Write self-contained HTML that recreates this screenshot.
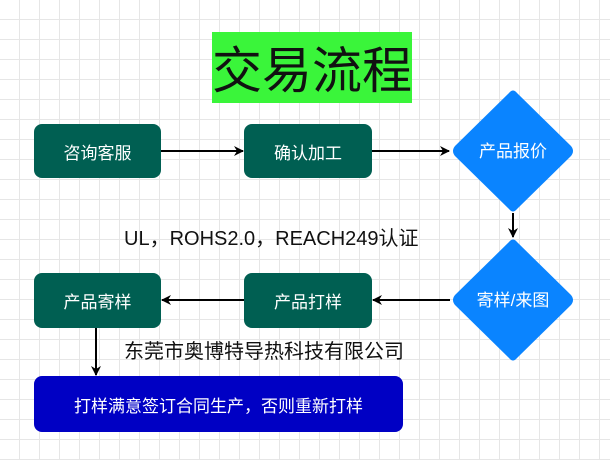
<!DOCTYPE html>
<html><head><meta charset="utf-8"><style>
body{margin:0;width:610px;height:460px;overflow:hidden;background:#fff;
background-image:linear-gradient(#e6e6e6 1px,transparent 1px),linear-gradient(90deg,#e6e6e6 1px,transparent 1px);background-size:20px 20px;background-position:-1px -1px;
font-family:"Liberation Sans","Noto Sans CJK SC",sans-serif;position:relative}
.b{position:absolute;background:#005f52;color:#fff;border-radius:8px;display:flex;align-items:center;justify-content:center;font-size:17px}
.t{position:absolute;font-size:20px;color:#111;white-space:nowrap}
</style></head><body>
<div style="position:absolute;left:212px;top:32px;width:200px;height:71px;background:#3af53a;font-size:50px;line-height:71px;text-align:center;color:#111;white-space:nowrap;overflow:hidden;font-family:'Noto Sans CJK SC',sans-serif">交易流程</div>
<div class="b" style="left:34px;top:124px;width:127px;height:54px">咨询客服</div>
<div class="b" style="left:244px;top:124px;width:128px;height:54px">确认加工</div>
<div class="b" style="left:34px;top:273px;width:127px;height:55px">产品寄样</div>
<div class="b" style="left:244px;top:273px;width:128px;height:55px">产品打样</div>
<div class="b" style="left:34px;top:376px;width:369px;height:56px;background:#0000c4">打样满意签订合同生产，否则重新打样</div>
<svg width="610" height="460" style="position:absolute;left:0;top:0">
<defs><marker id="a" markerWidth="10" markerHeight="10" refX="9" refY="5" orient="auto" markerUnits="userSpaceOnUse"><path d="M0,0 L10,5 L0,10 L3,5z" fill="#000"/></marker></defs>
<path d="M509,93 Q513,88 517,93 L571,146 Q575,151 571,156 L517,209 Q513,214 509,209 L455,156 Q451,151 455,146z" fill="#0a84ff"/>
<path d="M509,242 Q513,237 517,242 L571,295 Q575,300 571,305 L517,358 Q513,363 509,358 L455,305 Q451,300 455,295z" fill="#0a84ff"/>
<text x="513" y="157" fill="#fff" font-size="17" text-anchor="middle" font-family="Liberation Sans,Noto Sans CJK SC,sans-serif">产品报价</text>
<text x="513" y="306" fill="#fff" font-size="17" text-anchor="middle" font-family="Liberation Sans,Noto Sans CJK SC,sans-serif">寄样/来图</text>
<g stroke="#000" stroke-width="2" fill="none">
<line x1="161" y1="151" x2="243" y2="151" marker-end="url(#a)"/>
<line x1="372" y1="151" x2="449" y2="151" marker-end="url(#a)"/>
<line x1="513" y1="213" x2="513" y2="237" marker-end="url(#a)"/>
<line x1="450" y1="300" x2="373" y2="300" marker-end="url(#a)"/>
<line x1="244" y1="300" x2="162" y2="300" marker-end="url(#a)"/>
<line x1="96" y1="328" x2="96" y2="375" marker-end="url(#a)"/>
</g></svg>
<div class="t" style="left:124px;top:222px">UL，ROHS2.0，REACH249认证</div>
<div class="t" style="left:124px;top:335px">东莞市奥博特导热科技有限公司</div>
</body></html>
